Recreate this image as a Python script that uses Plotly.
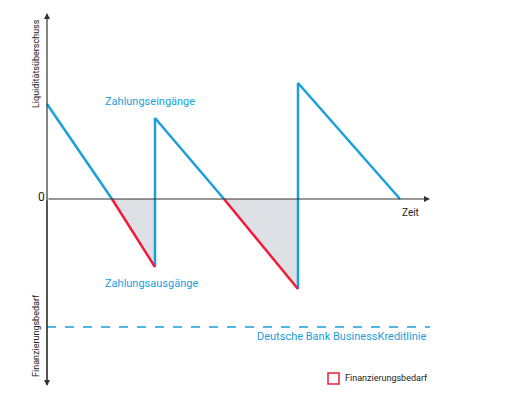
import plotly.graph_objects as go

# Zeitpunkte und Liquiditätsstand (0 = Nulllinie)
t_blue = [[0, 65], [108, 108, 177], [251, 251, 353]]
l_blue = [[95, 0], [-68, 81, 0], [-90, 116, 0]]
t_red = [[65, 108], [177, 251]]
l_red = [[0, -68], [0, -90]]
kreditlinie = -128

X0 = 47  # Lage der y-Achse
BLUE = '#1aa0dc'
RED = '#ee1c3a'

fig = go.Figure()

# graue Flächen (Finanzierungsbedarf)
for t, l in zip(t_red, l_red):
    fig.add_trace(go.Scatter(
        x=[X0 + t[0], X0 + t[1], X0 + t[1], X0 + t[0]],
        y=[l[0], l[1], 0, l[0]],
        fill='toself', fillcolor='#dde0e4', line=dict(width=0),
        mode='lines', hoverinfo='skip'))

for t, l in zip(t_blue, l_blue):
    fig.add_trace(go.Scatter(x=[X0 + v for v in t], y=l, mode='lines',
                             line=dict(color=BLUE, width=2.5)))
for t, l in zip(t_red, l_red):
    fig.add_trace(go.Scatter(x=[X0 + v for v in t], y=l, mode='lines',
                             line=dict(color=RED, width=2.5)))

# Kreditlinie
fig.add_trace(go.Scatter(x=[X0, 430], y=[kreditlinie, kreditlinie], mode='lines',
                         line=dict(color=BLUE, width=1.5, dash='dash')))

axis_col = '#333333'
fig.add_annotation(x=X0, y=186, ax=X0, ay=-186, xref='x', yref='y', axref='x', ayref='y',
                   showarrow=True, arrowhead=2, arrowsize=1, arrowwidth=1.2, arrowcolor=axis_col, text='')
fig.add_annotation(x=X0, y=-187, ax=X0, ay=0, xref='x', yref='y', axref='x', ayref='y',
                   showarrow=True, arrowhead=2, arrowsize=1, arrowwidth=1.2, arrowcolor=axis_col, text='')
fig.add_annotation(x=430, y=0, ax=X0, ay=0, xref='x', yref='y', axref='x', ayref='y',
                   showarrow=True, arrowhead=2, arrowsize=1, arrowwidth=1.2, arrowcolor=axis_col, text='')

font = dict(family='Roboto', size=11, color=BLUE)
txt = [
    dict(x=103, y=98, text='Zahlungseingänge', xanchor='left', font=font),
    dict(x=103, y=-84, text='Zahlungsausgänge', xanchor='left', font=font),
    dict(x=428, y=-137, text='Deutsche Bank BusinessKreditlinie', xanchor='right', font=font),
    dict(x=41, y=2, text='0', xanchor='center', font=dict(family='Roboto', size=12, color='#222')),
    dict(x=410, y=-13, text='Zeit', xanchor='center', font=dict(family='Roboto', size=10, color='#222')),
    dict(x=36, y=135, text='Liquiditätsüberschuss', textangle=-90, xanchor='center',
         font=dict(family='Roboto', size=9, color='#222')),
    dict(x=36, y=-137, text='Finanzierungsbedarf', textangle=-90, xanchor='center',
         font=dict(family='Roboto', size=9, color='#222')),
    dict(x=343, y=-179, text='Finanzierungsbedarf', xanchor='left',
         font=dict(family='Roboto', size=9, color='#222')),
]
for a in txt:
    fig.add_annotation(xref='x', yref='y', showarrow=False, yanchor='middle', **a)

fig.add_shape(type='rect', x0=328, x1=339, y0=-185, y1=-174, xref='x', yref='y',
              line=dict(color=RED, width=1.5), fillcolor='white')

fig.update_layout(
    width=519, height=400, margin=dict(l=0, r=0, t=0, b=0),
    paper_bgcolor='white', plot_bgcolor='white', showlegend=False,
    xaxis=dict(range=[8, 527], visible=False, fixedrange=True),
    yaxis=dict(range=[-209, 191], visible=False, fixedrange=True),
)

fig.write_html("out.html")
